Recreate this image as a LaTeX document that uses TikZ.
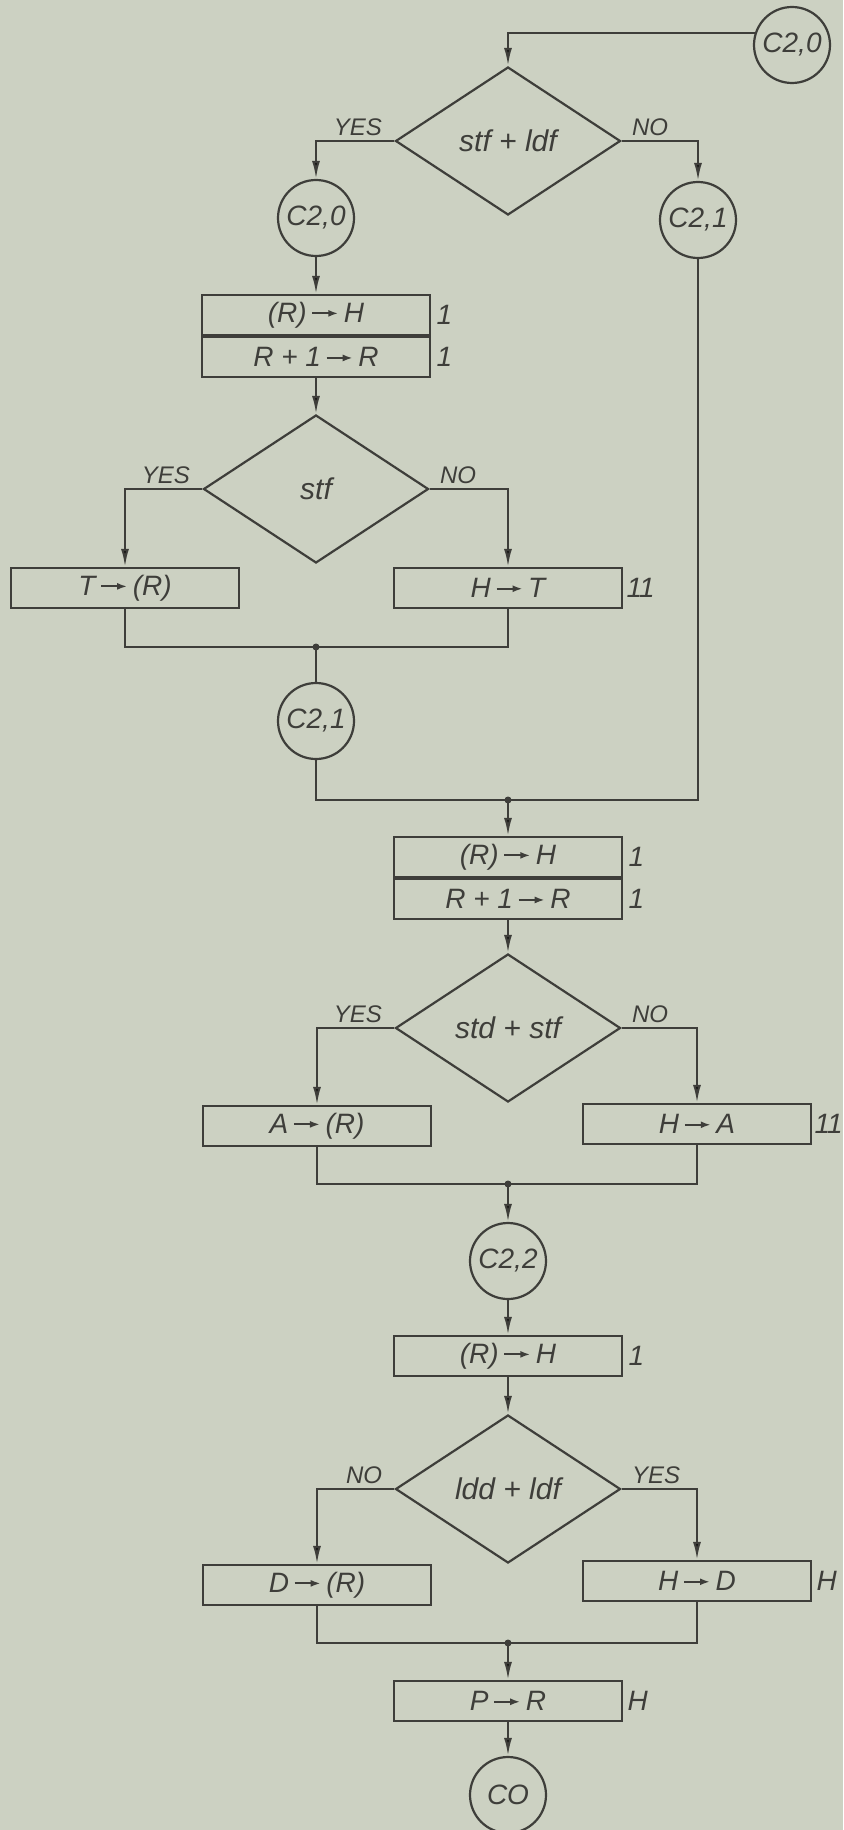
\documentclass[tikz,border=0pt]{standalone}
\usepackage{fontspec}
\setmainfont{Liberation Sans}
\usepackage{tikz}
\usetikzlibrary{arrows.meta, positioning, shapes.geometric}

\definecolor{paper}{RGB}{204,209,194}
\definecolor{ink}{RGB}{62,62,58}

\newcommand{\regarrow}{\,\tikz[baseline=-0.6ex]\draw[ink, line width=1pt, -{Latex[length=5pt, width=3.5pt]}] (0pt,0pt) -- (13pt,0pt);\,}
\newcommand{\eleven}{1\kern-1.5pt1}

\begin{document}
\begin{tikzpicture}[
    x=0.5pt, y=-0.5pt,
    box/.style={rectangle, draw=ink, line width=1.1pt, text=ink, minimum width=114pt, minimum height=20pt, inner sep=0pt, font=\fontsize{14}{16}\selectfont\itshape},
    decision/.style={diamond, aspect=1.5, draw=ink, line width=1.1pt, text=ink, minimum width=112.5pt, minimum height=74pt, inner sep=0pt, font=\fontsize{15}{17}\selectfont\itshape},
    conn/.style={circle, draw=ink, line width=1.1pt, text=ink, minimum size=38pt, inner sep=0pt, font=\fontsize{14}{16}\selectfont\itshape},
    junction/.style={circle, fill=ink, minimum size=3.5pt, inner sep=0pt},
    tag/.style={text=ink, inner sep=0pt, font=\fontsize{14}{16}\selectfont\itshape},
    answer/.style={text=ink, inner sep=1pt, font=\fontsize{12}{14}\selectfont\itshape},
    arrow/.style={draw=ink, line width=1.1pt, -{Latex[length=9pt, width=4pt]}},
    wire/.style={draw=ink, line width=1.1pt}
]
\useasboundingbox (0,0) rectangle (843,1830);
\fill[paper] (0,0) rectangle (843,1830);

\node[conn] (c20t) at (792,45) {C2,0};
\node[decision] (d1) at (508,141) {stf + ldf};
\node[conn] (c20l) at (316,218) {C2,0};
\node[conn] (c21r) at (698,220) {C2,1};
\node[box] (rh1) at (316,315) {(R)\regarrow H};
\node[box, below=0pt of rh1] (rr1) {R + 1\regarrow R};
\node[decision] (stf) at (316,489) {stf};
\node[box] (tr) at (125,588) {T\regarrow(R)};
\node[box] (ht) at (508,588) {H\regarrow T};
\node[junction] (j1) at (316,647) {};
\node[conn] (c21l) at (316,721) {C2,1};
\node[junction] (j2) at (508,800) {};
\node[box] (rh2) at (508,857) {(R)\regarrow H};
\node[box, below=0pt of rh2] (rr2) {R + 1\regarrow R};
\node[decision] (d3) at (508,1028) {std + stf};
\node[box] (ar) at (317,1126) {A\regarrow(R)};
\node[box] (ha) at (697,1124) {H\regarrow A};
\node[junction] (j3) at (508,1184) {};
\node[conn] (c22) at (508,1261) {C2,2};
\node[box] (rh3) at (508,1356) {(R)\regarrow H};
\node[decision] (d4) at (508,1489) {ldd + ldf};
\node[box] (dr) at (317,1585) {D\regarrow(R)};
\node[box] (hd) at (697,1581) {H\regarrow D};
\node[junction] (j4) at (508,1643) {};
\node[box] (pr) at (508,1701) {P\regarrow R};
\node[conn] (co) at (508,1795) {CO};

\node[tag, right=2.5pt of rh1] (t1) {1};
\node[tag, right=2.5pt of rr1] (t2) {1};
\node[tag, right=1.5pt of ht] (t3) {\eleven};
\node[tag, right=2.5pt of rh2] (t4) {1};
\node[tag, right=2.5pt of rr2] (t5) {1};
\node[tag, right=1pt of ha] (t6) {\eleven};
\node[tag, right=2.5pt of rh3] (t7) {1};
\node[tag, right=2pt of hd] (t8) {H};
\node[tag, right=2pt of pr] (t9) {H};

\node[answer, above left=1.5pt and 5pt of d1.west] (y1) {YES};
\node[answer, above right=1.5pt and 4pt of d1.east] (n1) {NO};
\node[answer, above left=1.5pt and 5pt of stf.west] (y2) {YES};
\node[answer, above right=1.5pt and 4pt of stf.east] (n2) {NO};
\node[answer, above left=1.5pt and 5pt of d3.west] (y3) {YES};
\node[answer, above right=1.5pt and 4pt of d3.east] (n3) {NO};
\node[answer, above left=1.5pt and 5pt of d4.west] (n4) {NO};
\node[answer, above right=1.5pt and 4pt of d4.east] (y4) {YES};

\draw[arrow] (c20t.162) -| (d1.north);
\draw[arrow] (d1.west) -| (c20l.north);
\draw[arrow] (d1.east) -| (c21r.north);
\draw[arrow] (c20l) -- (rh1);
\draw[arrow] (rr1) -- (stf);
\draw[arrow] (stf.west) -| (tr.north);
\draw[arrow] (stf.east) -| (ht.north);
\draw[wire] (tr.south) |- (j1.center) -| (ht.south);
\draw[wire] (j1.center) -- (c21l.north);
\draw[wire] (c21l.south) |- (j2.center) -| (c21r.south);
\draw[arrow] (j2.center) -- (rh2);
\draw[arrow] (rr2) -- (d3);
\draw[arrow] (d3.west) -| (ar.north);
\draw[arrow] (d3.east) -| (ha.north);
\draw[wire] (ar.south) |- (j3.center) -| (ha.south);
\draw[arrow] (j3.center) -- (c22);
\draw[arrow] (c22) -- (rh3);
\draw[arrow] (rh3) -- (d4);
\draw[arrow] (d4.west) -| (dr.north);
\draw[arrow] (d4.east) -| (hd.north);
\draw[wire] (dr.south) |- (j4.center) -| (hd.south);
\draw[arrow] (j4.center) -- (pr);
\draw[arrow] (pr) -- (co);
\end{tikzpicture}
\end{document}
